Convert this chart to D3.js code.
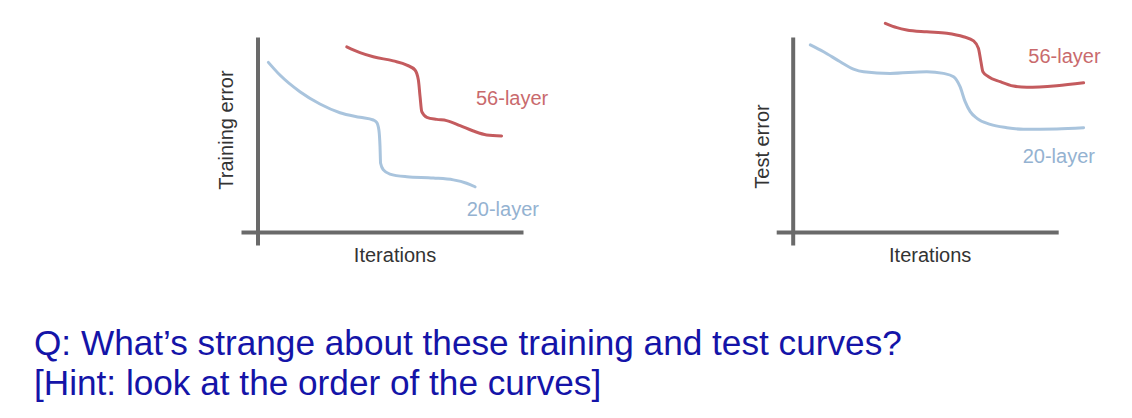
<!DOCTYPE html>
<html><head><meta charset="utf-8">
<script src="https://cdn.jsdelivr.net/npm/d3@7"></script>
<style>
html,body{margin:0;padding:0;background:#fff;}
svg{display:block;font-family:"Liberation Sans",Arial,Helvetica,sans-serif;}
</style></head>
<body>
<svg id="c" width="1132" height="418"></svg>
<script>
// ---- data (iterations 0-100, error 0-100) ----
const trainIter20 = [9.7,13.8,20.9,28.0,35.1,42.2,46.9,48.1,48.9,49.3,49.5,50.5,52.8,58.8,68.2,75.3,80.0,83.0];
const trainErr20  = [87.8,81.7,73.7,67.8,63.6,61.4,60.1,59.0,55.3,47.3,39.3,36.1,34.1,32.8,32.2,31.3,29.7,28.0];
const trainIter56 = [37.5,42.2,46.9,54.0,58.8,61.7,62.9,63.5,64.1,65.9,69.4,72.9,77.7,82.4,87.1,92.4];
const trainErr56  = [95.3,92.5,90.5,88.5,86.5,84.1,79.3,71.3,64.1,61.4,60.4,59.8,57.4,54.8,52.9,52.4];
const testIter20  = [12.1,16.8,22.7,27.4,31.0,40.4,53.4,59.3,62.9,65.2,67.0,68.8,71.2,75.9,81.8,87.7,99.5,109.0];
const testErr20   = [96.2,92.9,88.1,84.6,83.3,82.5,83.3,82.5,80.9,76.1,68.9,64.1,60.9,58.0,56.4,55.6,55.8,56.4];
const testIter56  = [38.7,42.8,46.3,53.4,60.5,66.4,70.0,71.7,72.6,73.3,75.3,79.4,84.1,88.9,99.5,109.0];
const testErr56   = [106.6,104.5,103.4,102.5,101.8,100.1,98.1,94.6,88.1,83.3,80.9,78.5,76.4,75.8,76.6,78.0];
const seriesNames = ["20-layer","56-layer"];
const yTitles = ["Training error","Test error"];
const xTitle = "Iterations";
const question = ["Q: What\u2019s strange about these training and test curves?","[Hint: look at the order of the curves]"];

const svg = d3.select("#c");
const x = d3.scaleLinear().domain([0,100]).range([241,523]);
const y = d3.scaleLinear().domain([0,100]).range([245,37]);
const col = {"20-layer":"#a9c4dd","56-layer":"#c45b5e"};
const labCol = {"20-layer":"#94b2d1","56-layer":"#c96a6d"};
const line = d3.line().x(d=>x(d[0])).y(d=>y(d[1])).curve(d3.curveMonotoneX);
const zip = (a,b)=>a.map((v,i)=>[v,b[i]]);

const panels = [
  {dx:0, title:yTitles[0], ytx:233, yty:130,
   s:[zip(trainIter20,trainErr20), zip(trainIter56,trainErr56)],
   lab:[[466.7,216],[476,105]]},
  {dx:535.2, title:yTitles[1], ytx:769-535.2, yty:146.5,
   s:[zip(testIter20,testErr20), zip(testIter56,testErr56)],
   lab:[[1022.7-535.2,162.7],[1028.3-535.2,62.7]]}
];

panels.forEach(p=>{
  const g = svg.append("g").attr("transform",`translate(${p.dx},0)`);
  // axes
  const xa = g.append("g").attr("transform",`translate(0,${232})`)
    .call(d3.axisBottom(x).tickValues([]).tickSizeOuter(0));
  xa.select(".domain").attr("stroke","#6a6a6a").attr("stroke-width",4);
  const ya = g.append("g").attr("transform",`translate(${257.5},0)`)
    .call(d3.axisLeft(y).tickValues([]).tickSizeOuter(0));
  ya.select(".domain").attr("stroke","#6a6a6a").attr("stroke-width",4);
  // curves
  p.s.forEach((d,i)=>{
    g.append("path").attr("d",line(d)).attr("fill","none")
     .attr("stroke",col[seriesNames[i]]).attr("stroke-width",3)
     .attr("stroke-linecap","round").attr("stroke-linejoin","round");
    g.append("text").attr("x",p.lab[i][0]).attr("y",p.lab[i][1])
     .attr("font-size",20).attr("fill",labCol[seriesNames[i]]).text(seriesNames[i]);
  });
  g.append("text").attr("x",(x.range()[0]+x.range()[1])/2+13).attr("y",261.5)
   .attr("text-anchor","middle").attr("font-size",20).attr("fill","#333").text(xTitle);
  g.append("text").attr("transform",`translate(${p.ytx},${p.yty}) rotate(-90)`)
   .attr("text-anchor","middle").attr("font-size",20).attr("fill","#333").text(p.title);
});

svg.selectAll("text.q").data(question).enter().append("text").attr("class","q")
  .attr("x",34).attr("y",(d,i)=>355+i*39.5).attr("font-size",35.2)
  .attr("fill","#1414a8").text(d=>d);
</script>
</body></html>
